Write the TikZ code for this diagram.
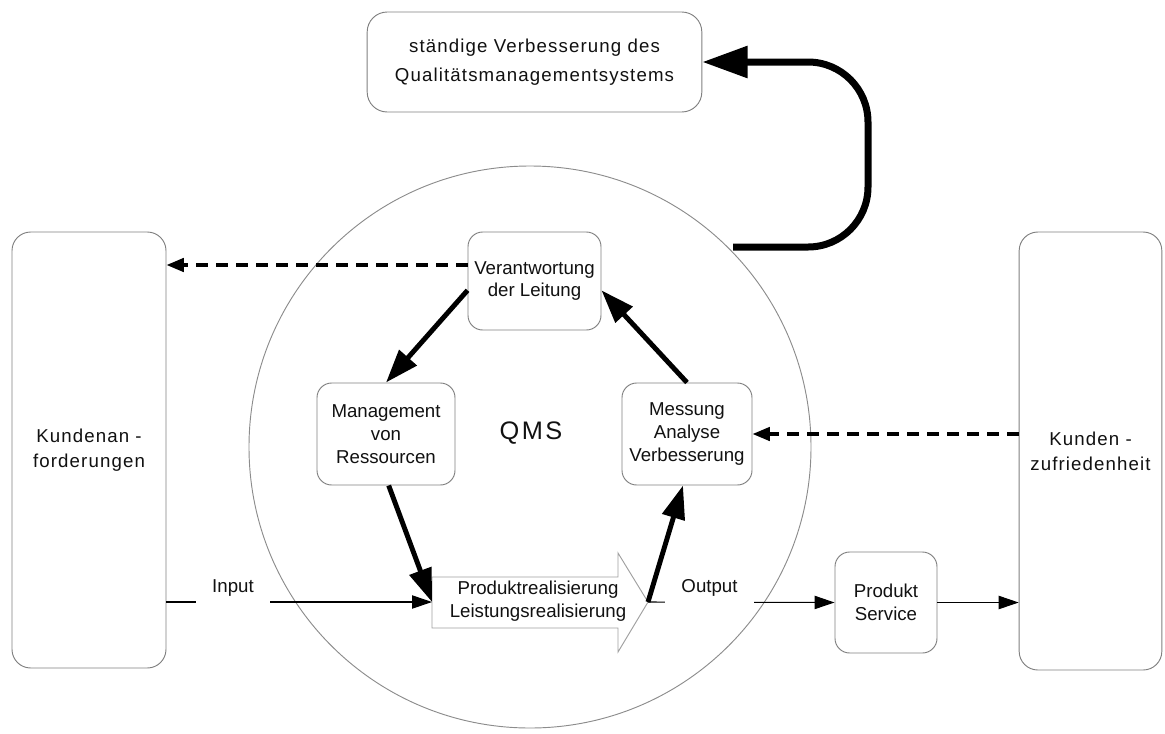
\documentclass[tikz,border=0pt]{standalone}
\usepackage{fontspec}
\setmainfont{Liberation Sans}
\newfontfamily\widefont[LetterSpace=6]{Liberation Sans}
\newfontfamily\qmsfont[LetterSpace=10]{Liberation Sans}
\usetikzlibrary{arrows.meta,calc}
\definecolor{ink}{HTML}{111111}
\definecolor{boxgray}{HTML}{808080}
\definecolor{ringgray}{HTML}{8C8C8C}
\definecolor{shapegray}{HTML}{A0A0A0}
\tikzset{
  qmsbox/.style={
    draw=boxgray, fill=white, line width=0.7pt, rounded corners=11pt,
    align=center, inner sep=2pt, text=ink,
    font=\fontsize{14}{17}\selectfont
  },
  sidebox/.style={
    qmsbox, rounded corners=14pt,
    font=\widefont\fontsize{14}{19}\selectfont
  },
  flowarrow/.style={line width=3.7pt, -{Triangle[length=25pt,width=17pt]}},
  feedarrow/.style={line width=2.6pt, dash pattern=on 9pt off 6pt, -{Triangle[length=13pt,width=10pt]}},
  thinarrow/.style={line width=0.8pt, -{Triangle[length=15pt,width=10pt]}},
  looparrow/.style={line width=5.25pt, rounded corners=45pt, -{Triangle[length=34pt,width=23pt]}},
  flowlabel/.style={
    fill=white, anchor=base, inner xsep=12pt, inner ysep=1pt,
    text depth=10pt, text=ink, font=\fontsize{14}{17}\selectfont
  }
}
\begin{document}
\begin{tikzpicture}[x=0.75pt, y=-0.75pt]
\useasboundingbox (0,0) rectangle (1165,733);
\draw[ringgray, line width=0.7pt] (530,447) circle [radius=281];

\node[sidebox, minimum width=251pt, minimum height=75pt, rounded corners=15pt,
      font=\widefont\fontsize{14}{21.5}\selectfont] (improve) at (534.5,62)
      {ständige Verbesserung des\\Qualitätsmanagementsystems};
\node[sidebox, minimum width=115.5pt, minimum height=327pt] (demand) at (89,450) {Kundenan -\\forderungen};
\node[sidebox, minimum width=107pt, minimum height=328.5pt] (satisf) at (1090.5,451) {Kunden -\\zufriedenheit};
\node[qmsbox, minimum width=99.75pt, minimum height=73.5pt] (lead) at (534.5,281) {Verantwortung\\der Leitung};
\node[qmsbox, minimum width=103.5pt, minimum height=76.5pt] (resrc) at (386,434) {Management\\von\\Ressourcen};
\node[qmsbox, minimum width=97.5pt, minimum height=76.5pt] (measure) at (687,434) {Messung\\Analyse\\Verbesserung};
\node[qmsbox, minimum width=76.5pt, minimum height=75.75pt] (service) at (886,602.5) {Produkt\\Service};
\node[text=ink, font=\qmsfont\fontsize{19}{22}\selectfont] (qms) at (531,433) {QMS};

\draw[shapegray, line width=0.7pt, fill=white] (432,577) -- (618,577) -- (618,553) -- (648,602)
  -- (618,652) -- (618,628) -- (432,628) -- cycle;
\node[text=ink, align=center, font=\fontsize{14}{17}\selectfont] (realize) at (538,601)
  {Produktrealisierung\\Leistungsrealisierung};
\coordinate (realin) at (432,602);
\coordinate (realtip) at (648,602);
\coordinate (loopstart) at (733,247);
\coordinate (loopcorner) at (868,62);
\coordinate (leadout) at ([yshift=12pt]lead.west);

\draw[looparrow] (loopstart) -| (loopcorner) -- (improve.east);
\draw[feedarrow] (leadout) -- (leadout -| demand.east);
\draw[feedarrow] (satisf.west |- measure.east) -- (measure.east);
\draw[flowarrow] ([yshift=-7pt]lead.west) -- (resrc.north);
\draw[flowarrow] ([xshift=2pt]resrc.south) -- (realin);
\draw[flowarrow] (realtip) -- ([xshift=-3pt]measure.south);
\draw[flowarrow] (measure.north) -- ([yshift=-7pt]lead.east);
\draw[thinarrow] (demand.east |- realin) -- (realin);
\draw[thinarrow] (realtip) -- (service.west);
\draw[thinarrow] (service.east) -- (service.east -| satisf.west);
\node[flowlabel] (inlbl) at (233,592) {Input};
\node[flowlabel] (outlbl) at (709.5,592) {Output};
\end{tikzpicture}
\end{document}
